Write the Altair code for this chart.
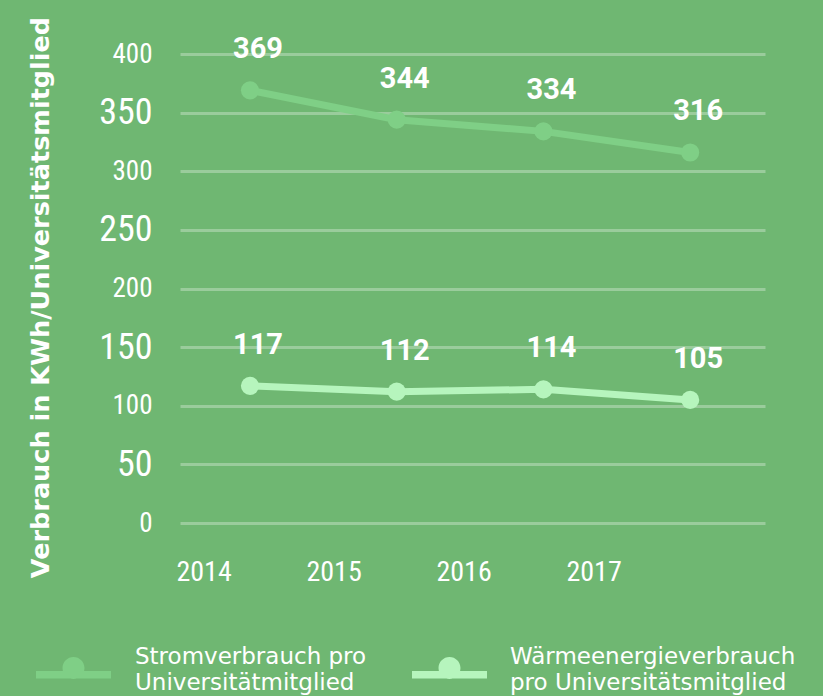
import altair as alt
import pandas as pd

years = [2014, 2015, 2016, 2017]
strom = [369, 344, 334, 316]
waerme = [117, 112, 114, 105]
series_names = ["Stromverbrauch pro|Universitätmitglied",
                "Wärmeenergieverbrauch|pro Universitätsmitglied"]
series_colors = ["#7fcf86", "#b6f5bd"]

rows = []
for y, v in zip(years, strom):
    rows.append({"year": y, "value": v, "series": series_names[0]})
for y, v in zip(years, waerme):
    rows.append({"year": y, "value": v, "series": series_names[1]})
df = pd.DataFrame(rows)
df_years = pd.DataFrame({"year": years})
df_legend = pd.DataFrame({"series": series_names})

FONT = "Liberation Sans Narrow, Roboto Condensed, DejaVu Sans Condensed, Roboto, sans-serif"

xscale = alt.Scale(domain=[2013.523, 2017.51], nice=False, zero=False)
yscale = alt.Scale(domain=[0, 400], nice=False)
cscale = alt.Scale(domain=series_names, range=series_colors)

yaxis = alt.Axis(
    values=[0, 50, 100, 150, 200, 250, 300, 350, 400],
    ticks=False, domain=False,
    grid=True, gridColor="#ffffff", gridOpacity=0.3, gridWidth=3,
    labelColor="#ffffff", labelFont=FONT,
    labelFontSize={"condition": {"test": "datum.value % 100 === 0", "value": 27}, "value": 36},
    labelPadding=28, labelBaseline="middle",
    title="Verbrauch  in KWh/Universitätsmitglied",
    titleColor="#ffffff", titleFont="DejaVu Sans", titleFontSize=25.5, titleFontWeight="bold",
    titleAngle=-90, titleX=-140, titleY=243, titleAlign="center", titleBaseline="middle",
)

base = alt.Chart(df)

line = base.mark_line(strokeWidth=7).encode(
    x=alt.X("year:Q", scale=xscale, axis=None),
    y=alt.Y("value:Q", scale=yscale, axis=yaxis),
    stroke=alt.Stroke("series:N", scale=cscale, legend=None),
    detail="series:N",
)

points = base.mark_point(filled=True, size=330, opacity=1).encode(
    x=alt.X("year:Q", scale=xscale, axis=None),
    y=alt.Y("value:Q", scale=yscale),
    fill=alt.Fill("series:N", scale=cscale, legend=None),
)

labels = base.mark_text(fontSize=29, fontWeight="bold", color="#ffffff", font="Roboto",
                        dy=-41, dx=8).encode(
    x=alt.X("year:Q", scale=xscale, axis=None),
    y=alt.Y("value:Q", scale=yscale),
    text="value:Q",
)

main = alt.layer(line, points, labels)

year_labels = alt.Chart(df_years).mark_text(
    fontSize=28, color="#ffffff", font=FONT, baseline="middle"
).encode(
    x=alt.X("year:Q", scale=alt.Scale(domain=[2013.815, 2018.315], nice=False, zero=False), axis=None),
    y=alt.value(519),
    text="year:N",
)

# legend (drawn as marks below the plot)
legend_path = ("M-1,0 L1,0 L1,0.2 L-1,0.2 Z "
               "M-0.293,-0.08 A0.293,0.293 0 1 1 0.293,-0.08 A0.293,0.293 0 1 1 -0.293,-0.08 Z")

legend_symbols = alt.Chart(df_legend).mark_point(
    shape=legend_path, size=5625, filled=True, opacity=1, strokeWidth=0
).encode(
    x=alt.X("series:N", scale=alt.Scale(type="point", domain=series_names,
                                        range=[-106.5, 269.5], padding=0), axis=None),
    y=alt.value(617),
    fill=alt.Fill("series:N", scale=cscale, legend=None),
)

legend_text = alt.Chart(df_legend).mark_text(
    align="left", baseline="alphabetic", lineBreak="|", lineHeight=26,
    fontSize=23, color="#ffffff", font="DejaVu Sans"
).encode(
    x=alt.X("series:N", scale=alt.Scale(type="point", domain=series_names,
                                        range=[-45, 330], padding=0), axis=None),
    y=alt.value(610),
    text="series:N",
)

chart = alt.layer(main, year_labels, legend_symbols, legend_text).resolve_scale(
    x="independent"
).properties(
    width=585, height=469,
    autosize=alt.AutoSizeParams(type="none"),
    padding={"left": 180, "top": 54, "right": 58, "bottom": 173},
    background="#6fb772",
).configure_view(stroke=None)

chart.save("out.html", embed_options={"renderer": "svg", "actions": False})
